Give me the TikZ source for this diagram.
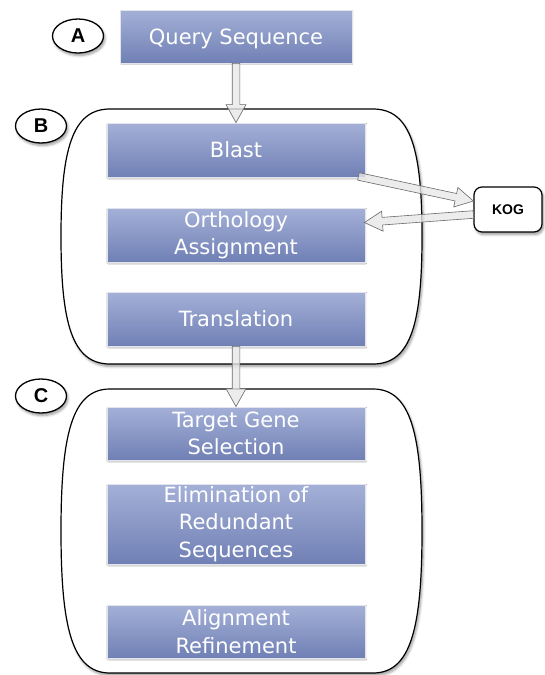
\documentclass[tikz,border=0pt]{standalone}
\usepackage{fontspec}
\setmainfont{DejaVu Sans}
\newfontfamily\tagfont{Liberation Sans}
\usetikzlibrary{calc,shapes.geometric,shadows,shadows.blur}

\definecolor{boxtop}{RGB}{164,176,215}
\definecolor{boxbot}{RGB}{112,128,181}
\definecolor{boxedge}{RGB}{226,228,236}
\definecolor{arrowfill}{RGB}{232,232,232}
\definecolor{arrowline}{RGB}{105,105,105}

\tikzset{
  softshadow/.style={blur shadow={shadow xshift=1.5pt, shadow yshift=-2.5pt,
      shadow blur steps=6, shadow blur radius=2.5pt, shadow opacity=40}},
  stepbox/.style={rectangle, minimum width=258pt, inner sep=0pt,
      top color=boxtop, bottom color=boxbot, draw=boxedge, line width=0.8pt,
      text=white, align=center, font=\fontsize{21}{27.5}\selectfont,
      blur shadow={shadow xshift=0.8pt, shadow yshift=-1pt, shadow blur steps=3,
      shadow blur radius=1pt, shadow opacity=20}},
  stagetag/.style={ellipse, draw, line width=1.3pt, fill=white, softshadow,
      minimum width=51pt, minimum height=34pt, inner sep=0pt,
      font=\tagfont\bfseries\fontsize{20}{20}\selectfont},
  dbbox/.style={rectangle, rounded corners=8pt, draw, line width=1.2pt,
      fill=white, softshadow, minimum width=68pt, minimum height=45pt,
      inner sep=0pt, font=\tagfont\bfseries\fontsize{14}{14}\selectfont},
  stageline/.style={draw=black, line width=1.2pt, fill=white, softshadow},
  fatarrow/.style={fill=arrowfill, fill opacity=0.8, draw=arrowline,
      line width=0.6pt, line join=miter},
}

% outline of a processing stage: flat top and bottom, bulging sides
\newcommand\stageoutline[2]{%
  \path[stageline] (110,#1) -- (373,#1)
    .. controls (411,#1) and (422,{#1+0.16*(#2-#1)}) .. (422,{(#1+#2)/2})
    .. controls (422,{#2-0.16*(#2-#1)}) and (411,#2) .. (373,#2)
    -- (110,#2)
    .. controls (72,#2) and (61,{#2-0.16*(#2-#1)}) .. (61,{(#1+#2)/2})
    .. controls (61,{#1+0.16*(#2-#1)}) and (72,#1) .. (110,#1) -- cycle;}

% hollow block arrow from #1 to the tip #2
\newcommand\hollowarrow[2]{%
  \coordinate (ha-base) at ($(#2)!18pt!(#1)$);
  \path[fatarrow] ($(#1)!3.8pt!90:(#2)$) -- ($(ha-base)!3.8pt!90:(#2)$)
    -- ($(ha-base)!10pt!90:(#2)$) -- (#2) -- ($(ha-base)!10pt!-90:(#2)$)
    -- ($(ha-base)!3.8pt!-90:(#2)$) -- ($(#1)!3.8pt!-90:(#2)$) -- cycle;}

\begin{document}
\begin{tikzpicture}[x=1pt, y=-1pt]
  \useasboundingbox (0,0) rectangle (544,675);

  % stage outlines
  \stageoutline{109}{364}
  \stageoutline{389}{673}

  % stage tags
  \node[stagetag] (tagA) at (78,36) {A};
  \node[stagetag] (tagB) at (41,126) {B};
  \node[stagetag] (tagC) at (41,396) {C};

  % pipeline steps
  \node[stepbox, minimum width=232pt, minimum height=53pt, text depth=0pt] (query) at (236,36.5) {Query Sequence};
  \node[stepbox, minimum height=54pt] (blast) at (236,150) {Blast};
  \node[stepbox, minimum height=54pt] (ortho) at (236,235) {Orthology\\Assignment};
  \node[stepbox, minimum height=54pt] (trans) at (236,319) {Translation};
  \node[stepbox, minimum height=53pt] (target) at (236,433.5) {Target Gene\\Selection};
  \node[stepbox, minimum height=80pt] (elim) at (236,524) {Elimination of\\Redundant\\Sequences};
  \node[stepbox, minimum height=53pt] (align) at (236,631.5) {Alignment\\Refinement};

  % external database
  \node[dbbox] (kog) at (508,209.5) {KOG};

  % connectors
  \hollowarrow{query.south}{blast.north}
  \hollowarrow{trans.south}{target.north}

  \coordinate (blastout) at ($(blast.south east)+(-7,-1)$);
  \coordinate (kogin) at ($(kog.west)+(0,-8.5)$);
  \coordinate (kogout) at ($(kog.west)+(0,5)$);
  \coordinate (orthoin) at ($(ortho.east)+(-1,-12.5)$);
  \hollowarrow{blastout}{kogin}
  \hollowarrow{kogout}{orthoin}
\end{tikzpicture}
\end{document}
